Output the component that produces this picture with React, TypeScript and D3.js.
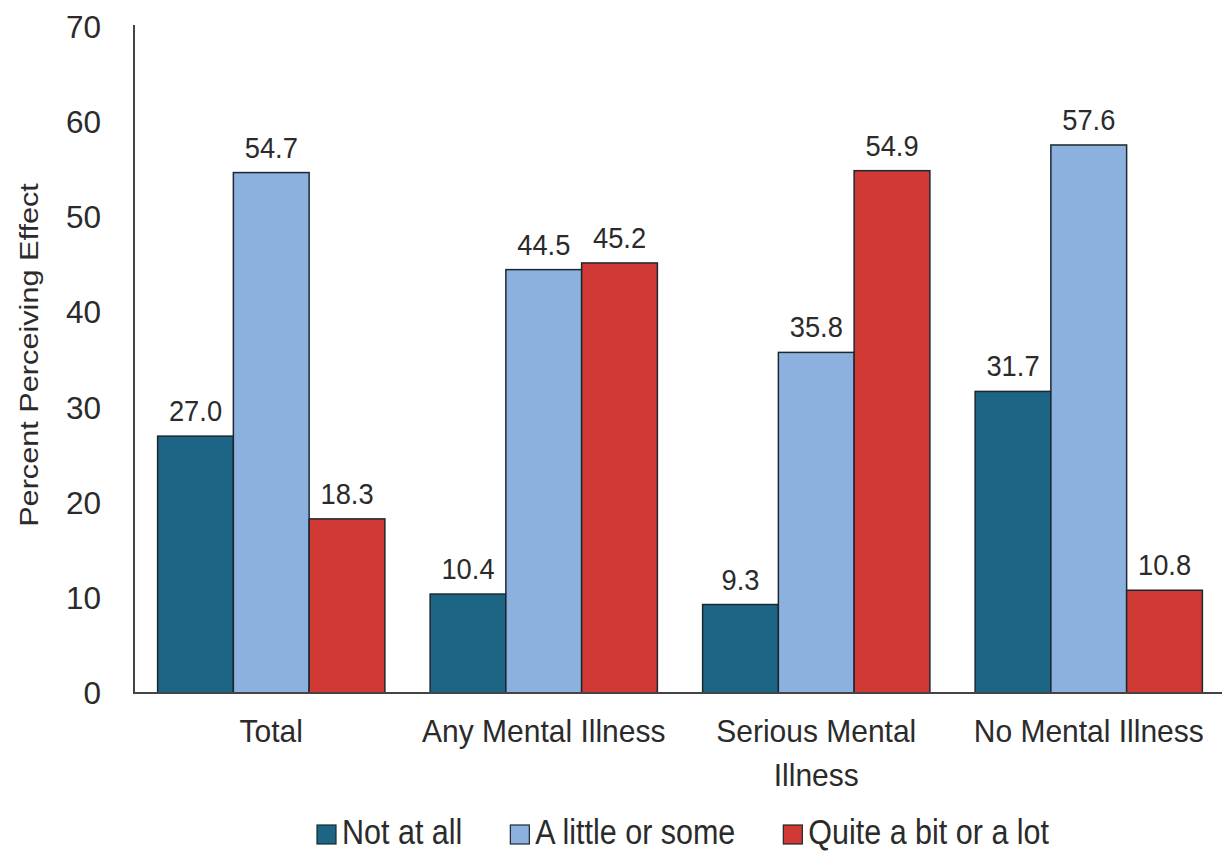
import { useEffect, useRef } from 'react';
import * as d3 from 'd3';

const categories = ['Total', 'Any Mental Illness', 'Serious Mental Illness', 'No Mental Illness'];
const seriesNames = ['Not at all', 'A little or some', 'Quite a bit or a lot'];
const notAtAll = [27.0, 10.4, 9.3, 31.7];
const aLittle = [54.7, 44.5, 35.8, 57.6];
const quiteABit = [18.3, 45.2, 54.9, 10.8];
const yTicks = [0, 10, 20, 30, 40, 50, 60, 70];
const colors = ['#1c6584', '#8db1de', '#d13934'];

const FONT = '"Liberation Sans", Arial, Helvetica, sans-serif';
const INK = '#2b2b2b';

export default function App() {
  const svgRef = useRef<SVGSVGElement | null>(null);

  useEffect(() => {
    if (!svgRef.current) return;
    const svg = d3.select(svgRef.current);
    svg.selectAll('*').remove();

    const W = 1227;
    const H = 853;
    svg.attr('width', W).attr('height', H).style('font-family', FONT);

    // text drawn a bit taller than wide, like the source
    const label = (parent: any, x: number, y: number, str: string, size: number, sy: number, anchor = 'middle') => {
      const g = parent.append('g').attr('transform', `translate(${x},${y}) scale(1,${sy})`);
      return g.append('text')
        .attr('text-anchor', anchor)
        .attr('font-size', size)
        .attr('fill', INK)
        .text(str);
    };

    const series = [notAtAll, aLittle, quiteABit];
    const rows = categories.map((c, i) => ({
      cat: c,
      vals: series.map((s, k) => ({ key: seriesNames[k], value: s[i], k })),
    }));

    const x0 = d3.scaleBand<string>()
      .domain(categories)
      .range([135, 1225])
      .paddingInner(0.166)
      .paddingOuter(0.083);

    const x1 = d3.scaleBand<string>()
      .domain(seriesNames)
      .range([0, x0.bandwidth()]);

    const y = d3.scaleLinear().domain([0, 70]).range([693, 27]);

    // y tick labels, no tick marks
    const yg = svg.append('g');
    yTicks.forEach(t => label(yg, 101, y(t) + 11, String(t), 31.5, 1.02, 'end'));

    // axis title
    svg.append('text')
      .attr('transform', `translate(38,${355}) rotate(-90) scale(1.18,1)`)
      .attr('text-anchor', 'middle')
      .attr('font-size', 26)
      .attr('fill', INK)
      .text('Percent Perceiving Effect');

    // bars
    const groups = svg.append('g')
      .selectAll('g')
      .data(rows)
      .enter()
      .append('g')
      .attr('transform', d => `translate(${x0(d.cat)},0)`);

    groups.selectAll('rect')
      .data(d => d.vals)
      .enter()
      .append('rect')
      .attr('x', d => x1(d.key)!)
      .attr('width', x1.bandwidth())
      .attr('y', d => y(d.value))
      .attr('height', d => y(0) - y(d.value))
      .attr('fill', d => colors[d.k])
      .attr('stroke', '#1b2830')
      .attr('stroke-width', 1.5);

    groups.each(function (row) {
      const g = d3.select(this);
      row.vals.forEach(v => {
        label(g, x1(v.key)! + x1.bandwidth() / 2, y(v.value) - 15, v.value.toFixed(1), 27.3, 1.11);
      });
    });

    // axis lines
    svg.append('line')
      .attr('x1', 134).attr('x2', 134)
      .attr('y1', y(70) - 2).attr('y2', y(0))
      .attr('stroke', '#444').attr('stroke-width', 2);
    svg.append('line')
      .attr('x1', 133).attr('x2', 1222)
      .attr('y1', y(0)).attr('y2', y(0))
      .attr('stroke', '#444').attr('stroke-width', 2);

    // category labels
    const catLines: Record<string, string[]> = {
      'Serious Mental Illness': ['Serious Mental', 'Illness'],
    };
    const cg = svg.append('g');
    categories.forEach(c => {
      const lines = catLines[c] || [c];
      lines.forEach((ln, i) => {
        label(cg, x0(c)! + x0.bandwidth() / 2, 742 + i * 44, ln, 30, 1.05);
      });
    });

    // legend
    const lg = svg.append('g');
    let lx = 317;
    seriesNames.forEach((name, i) => {
      lg.append('rect')
        .attr('x', lx).attr('y', 825)
        .attr('width', 19).attr('height', 19)
        .attr('fill', colors[i])
        .attr('stroke', '#1b2830')
        .attr('stroke-width', 1.2);
      const t = label(lg, lx + 25, 844, name, 30.5, 1.17, 'start');
      const w = (t.node() as SVGTextElement).getComputedTextLength();
      lx += 25 + w + 48;
    });
  }, []);

  return <svg ref={svgRef} style={{ display: 'block', position: 'absolute', left: 0, top: 0 }} />;
}
